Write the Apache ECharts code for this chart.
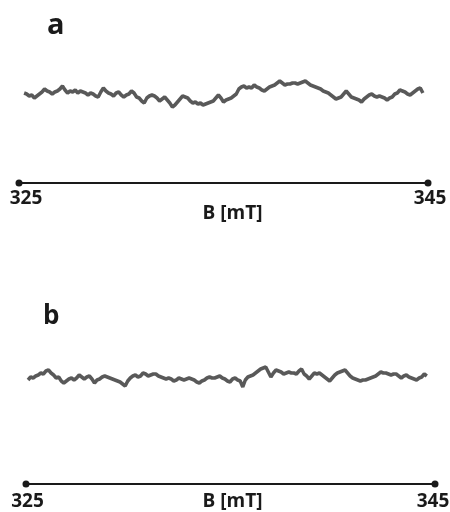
<!DOCTYPE html>
<html>
<head>
<meta charset="utf-8">
<script src="https://cdn.jsdelivr.net/npm/echarts@6/dist/echarts.min.js"></script>
<style>
html,body{margin:0;padding:0;background:#fff;}
#chart{width:450px;height:512px;}
</style>
</head>
<body>
<div id="chart"></div>
<script>
// Field axis (mT)
const fieldMin = 325;
const fieldMax = 345;
const tickLabels = [325, 345];
const axisName = 'B [mT]';
const panelLabels = ['a', 'b'];

// Sweep sampling of each trace (mT)
const fieldStartA = 325.25;
const fieldStartB = 325.1;
const fieldStep = 0.125;

// Signal (arbitrary units, relative to baseline)
const signalA = [0,-1,-3,-2,-5,-3,-1,1,4,2,1,-1,1,2,4,7,3,0,2,1,3,0,2,1,0,-2,0,-1,-3,-4,
1,5,2,0,-1,-3,0,1,-2,-4,-2,-1,2,0,-4,-5,-8,-10,-5,-3,-2,-3,-5,-8,-6,-4,-7,-10,-14,-12,
-9,-6,-3,-4,-5,-8,-10,-9,-11,-10,-12,-11,-10,-9,-8,-5,-2,-5,-9,-7,-6,-5,-3,-1,4,6,7,5,6,5,
8,6,5,3,2,4,6,7,8,10,12,10,8,9,9,10,10,9,10,11,12,10,8,7,6,5,4,2,1,0,
-2,-4,-6,-5,-4,-1,2,-1,-4,-5,-6,-7,-9,-6,-4,-2,-1,-3,-4,-3,-4,-5,-7,-5,-4,-1,0,3,2,1,
-1,-2,0,2,4,5,0];

const signalB = [-4,-1,-2,0,1,3,2,5,6,3,1,-2,-1,-5,-7,-5,-3,-2,-4,-2,1,-1,-3,-1,0,-3,-7,-4,-3,-1,
0,-1,-2,-3,-4,-5,-6,-8,-10,-5,-2,0,1,-1,0,3,2,0,1,2,2,0,-1,-2,-3,-2,-3,-5,-4,-2,
-3,-4,-3,-2,-3,-4,-6,-7,-5,-4,-2,-1,-2,-2,-1,0,-2,-3,-5,-6,-3,-2,-4,-5,-11,-4,-1,0,1,3,
5,7,8,9,4,-1,3,6,5,4,2,3,4,3,3,2,5,7,2,0,-3,0,3,2,3,1,-1,-3,-5,-2,
1,3,4,5,6,3,0,-2,-3,-4,-5,-4,-4,-3,-2,-1,0,2,4,3,3,2,1,2,2,0,-2,0,1,-1,
-2,-3,-4,-2,-1,2,0];

function toPairs(start, values) {
  return values.map((v, i) => [start + i * fieldStep, v]);
}

const FONT = 'Open Sans';
const chart = echarts.init(document.getElementById('chart'), null, {renderer: 'canvas'});

function makeXAxis(gridIndex, lOffset, rOffset, nameGap, namePad, labelMargin) {
  return {
    gridIndex: gridIndex,
    type: 'value',
    min: fieldMin,
    max: fieldMax,
    interval: fieldMax - fieldMin,
    name: axisName,
    nameLocation: 'middle',
    nameGap: nameGap,
    nameMoveOverlap: false,
    nameTextStyle: {fontFamily: FONT, fontWeight: 'bold', fontSize: 19, color: '#1a1a1a', padding: namePad},
    axisLine: {show: true, onZero: false, symbol: ['circle', 'circle'], symbolSize: [7, 7],
      lineStyle: {color: '#1a1a1a', width: 2}},
    axisTick: {show: false},
    splitLine: {show: false},
    axisLabel: {
      margin: labelMargin,
      formatter: function (v) {
        return tickLabels.indexOf(v) === 0 ? '{l|' + v + '}' : '{r|' + v + '}';
      },
      rich: {
        l: {fontFamily: FONT, fontWeight: 'bold', fontSize: 19, color: '#1a1a1a', padding: lOffset},
        r: {fontFamily: FONT, fontWeight: 'bold', fontSize: 19, color: '#1a1a1a', padding: rOffset}
      }
    }
  };
}

const option = {
  animation: false,
  backgroundColor: '#ffffff',
  title: [
    {text: panelLabels[0], left: 42, top: 6, textStyle: {fontFamily: FONT, fontWeight: 'bold', fontSize: 29, color: '#1a1a1a'}},
    {text: panelLabels[1], left: 38, top: 299, textStyle: {fontFamily: FONT, fontWeight: 'bold', fontSize: 26, color: '#1a1a1a'}}
  ],
  grid: [
    {left: 19, right: 22, top: 60, bottom: 329, outerBoundsMode: 'none'},
    {left: 26, right: 15, top: 361, bottom: 28, outerBoundsMode: 'none'}
  ],
  xAxis: [
    makeXAxis(0, [0, 0, 0, 14], [0, 0, 12, 4], 21, [0, 0, 0, 18], 6),
    makeXAxis(1, [0, 0, 0, 3], [0, 4, 0, 0], 8, [0, 0, 0, 4], 8)
  ],
  yAxis: [
    {gridIndex: 0, type: 'value', min: -90, max: 33, show: false},
    {gridIndex: 1, type: 'value', min: -108, max: 15, show: false}
  ],
  series: [
    {type: 'line', xAxisIndex: 0, yAxisIndex: 0, data: toPairs(fieldStartA, signalA),
      showSymbol: false, lineStyle: {color: '#595959', width: 3.5}, silent: true},
    {type: 'line', xAxisIndex: 1, yAxisIndex: 1, data: toPairs(fieldStartB, signalB),
      showSymbol: false, lineStyle: {color: '#595959', width: 3.5}, silent: true}
  ]
};
chart.setOption(option);
</script>
</body>
</html>
